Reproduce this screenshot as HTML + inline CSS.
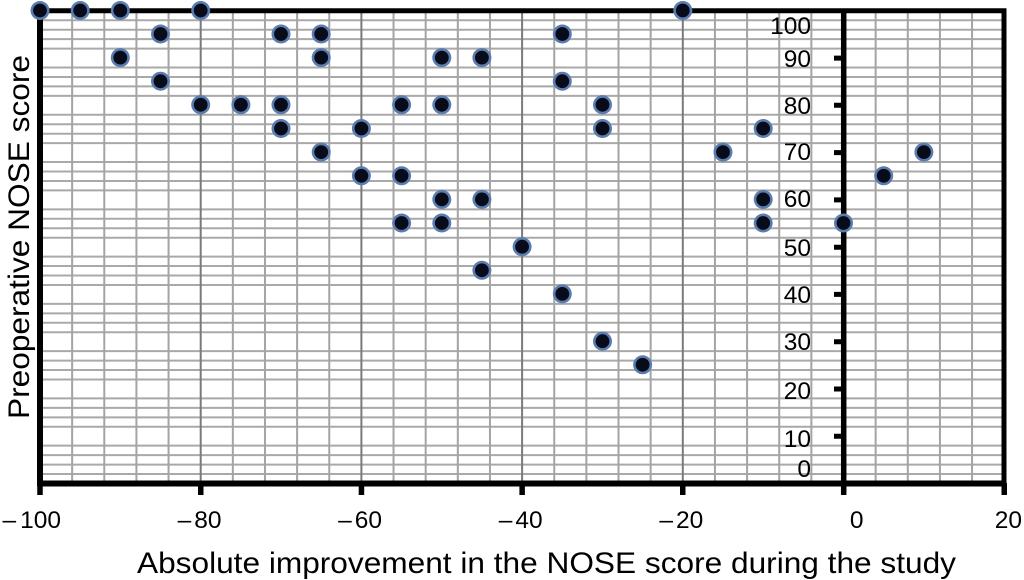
<!DOCTYPE html>
<html>
<head>
<meta charset="utf-8">
<style>
html,body{margin:0;padding:0;background:#fff}
svg{display:block}
text{font-family:"Liberation Sans",Arial,sans-serif;fill:#000}
</style>
</head>
<body>
<svg width="1024" height="580" viewBox="0 0 1024 580" xmlns="http://www.w3.org/2000/svg">
<defs>
<path id="pts" d="M40 10.5h0M80.2 10.5h0M120.3 10.5h0M200.7 10.5h0M682.8 10.5h0M160.5 34h0M281 34h0M321.2 34h0M562.3 34h0M120.3 57.6h0M321.2 57.6h0M441.8 57.6h0M481.9 57.6h0M160.5 81.2h0M562.3 81.2h0M200.7 104.8h0M240.9 104.8h0M281 104.8h0M401.6 104.8h0M441.8 104.8h0M602.5 104.8h0M281 128.5h0M361.4 128.5h0M602.5 128.5h0M763.2 128.5h0M321.2 152.1h0M723 152.1h0M923.9 152.1h0M361.4 175.8h0M401.6 175.8h0M883.7 175.8h0M441.8 199.4h0M481.9 199.4h0M763.2 199.4h0M401.6 223h0M441.8 223h0M763.2 223h0M843.5 223h0M522.1 246.7h0M481.9 270.3h0M562.3 293.9h0M602.5 341.2h0M642.6 364.8h0"/>
</defs>
<rect width="1024" height="580" fill="#fff"/>
<path stroke="#a9a9a9" stroke-width="2" fill="none" d="M40 474.05H1004M40 464.59H1004M40 455.14H1004M40 445.68H1004M40 426.78H1004M40 417.32H1004M40 407.87H1004M40 398.41H1004M40 379.51H1004M40 370.05H1004M40 360.6H1004M40 351.14H1004M40 332.24H1004M40 322.78H1004M40 313.33H1004M40 303.87H1004M40 284.97H1004M40 275.51H1004M40 266.06H1004M40 256.6H1004M40 237.7H1004M40 228.24H1004M40 218.79H1004M40 209.33H1004M40 190.43H1004M40 180.97H1004M40 171.52H1004M40 162.06H1004M40 143.16H1004M40 133.7H1004M40 124.25H1004M40 114.79H1004M40 95.89H1004M40 86.43H1004M40 76.98H1004M40 67.52H1004M40 48.62H1004M40 39.16H1004M40 29.71H1004M40 20.25H1004"/>
<path stroke="#a4a4a4" stroke-width="2" fill="none" d="M72.14 11V483.5M104.28 11V483.5M136.42 11V483.5M168.56 11V483.5M232.84 11V483.5M264.98 11V483.5M297.12 11V483.5M329.26 11V483.5M393.54 11V483.5M425.68 11V483.5M457.82 11V483.5M489.96 11V483.5M554.24 11V483.5M586.38 11V483.5M618.52 11V483.5M650.66 11V483.5M714.94 11V483.5M747.08 11V483.5M779.22 11V483.5M811.36 11V483.5M875.64 11V483.5M907.78 11V483.5M939.92 11V483.5M972.06 11V483.5"/>
<path stroke="#7a7a7a" stroke-width="2" fill="none" d="M200.7 11V483.5M361.4 11V483.5M522.1 11V483.5M682.8 11V483.5"/>
<g font-size="24.5" text-anchor="end">
<text x="811" y="34">100</text><text x="811" y="67">90</text><text x="811" y="114">80</text><text x="811" y="160">70</text><text x="811" y="207">60</text><text x="811" y="256">50</text><text x="811" y="303">40</text><text x="811" y="350">30</text><text x="811" y="399">20</text><text x="811" y="447">10</text><text x="811" y="477">0</text>
</g>
<path stroke="#000" stroke-width="5" fill="none" d="M834 436.2H844M834 389H844M834 341.7H844M834 294.4H844M834 247.2H844M834 199.9H844M834 152.6H844M834 105.3H844M834 58.1H844"/>
<path stroke="#000" stroke-width="5" fill="none" d="M37.5 10.8H1006.5M1004 8.5V486.5"/>
<path stroke="#000" stroke-width="6" fill="none" d="M37.5 483.5H1006.5M40 8.5V486.5"/>
<path stroke="#000" stroke-width="5.5" fill="none" d="M843.7 8.5V495M200.75 483V495M361.45 483V495M522.15 483V495M682.75 483V495M1004.25 483V495M40 483V495"/>
<g font-size="24.5" text-anchor="end">
<text x="61" y="528">–<tspan dx="4">100</tspan></text><text x="221.5" y="528">–<tspan dx="3">80</tspan></text><text x="382" y="528">–<tspan dx="3">60</tspan></text><text x="542.6" y="528">–<tspan dx="3">40</tspan></text><text x="703.3" y="528">–<tspan dx="3">20</tspan></text><text x="863.5" y="528">0</text><text x="1022" y="528">20</text>
</g>
<text x="137" y="573" font-size="30" textLength="819" lengthAdjust="spacingAndGlyphs">Absolute improvement in the NOSE score during the study</text>
<text transform="translate(29,237) rotate(-90)" font-size="30" text-anchor="middle" textLength="364" lengthAdjust="spacingAndGlyphs">Preoperative NOSE score</text>
<g fill="none" stroke-linecap="round">
<use href="#pts" stroke="#5a7cae" stroke-width="19"/>
<use href="#pts" stroke="#080c1a" stroke-width="13.8"/>
</g>
</svg>
</body>
</html>
